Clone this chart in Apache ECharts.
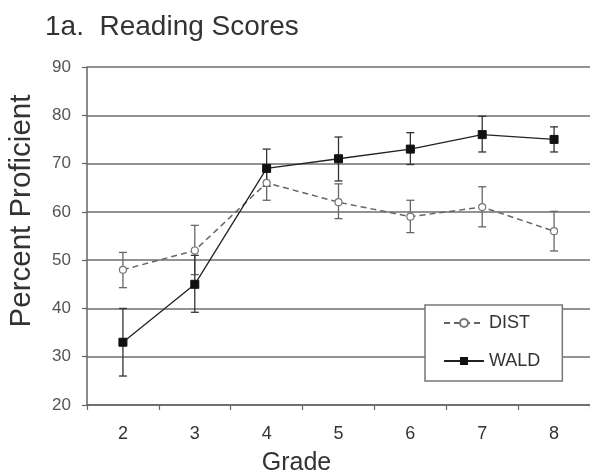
<!DOCTYPE html>
<html><head><meta charset="utf-8">
<script src="https://cdn.jsdelivr.net/npm/echarts@6/dist/echarts.min.js"></script>
<style>html,body{margin:0;padding:0;background:#fff}#c{width:590px;height:471px}</style>
</head><body><div id="c"></div>
<script>
const grades = ['2','3','4','5','6','7','8'];
const distMean = [48, 52, 66, 62, 59, 61, 56];
const distLow  = [44.3, 47, 62.4, 58.6, 55.7, 56.9, 51.9];
const distHigh = [51.6, 57.2, 69.5, 65.8, 62.4, 65.2, 60.1];
const waldMean = [33, 45, 69, 71, 73, 76, 75];
const waldLow  = [26, 39.2, 65.3, 66.4, 69.8, 72.4, 72.4];
const waldHigh = [40, 51, 73, 75.5, 76.4, 79.8, 77.6];
const yTicks = {min: 20, max: 90, step: 10};

const FONT = 'Liberation Sans, Arial, sans-serif';

function errData(lo, hi) { return grades.map((g, i) => [i, lo[i], hi[i]]); }
function errRender(color) {
  return function (params, api) {
    const x = api.value(0);
    const a = api.coord([x, api.value(1)]);
    const b = api.coord([x, api.value(2)]);
    const h = 4;
    const st = {stroke: color, lineWidth: 1.3};
    return {type: 'group', children: [
      {type: 'line', shape: {x1: a[0], y1: a[1], x2: b[0], y2: b[1]}, style: st},
      {type: 'line', shape: {x1: a[0]-h, y1: a[1], x2: a[0]+h, y2: a[1]}, style: st},
      {type: 'line', shape: {x1: b[0]-h, y1: b[1], x2: b[0]+h, y2: b[1]}, style: st}
    ]};
  };
}

const chart = echarts.init(document.getElementById('c'), null, {renderer: 'canvas'});
chart.setOption({
  animation: false,
  backgroundColor: '#fff',
  textStyle: {fontFamily: FONT},
  title: {
    text: '1a.  Reading Scores', left: 40, top: 8,
    textStyle: {fontFamily: FONT, fontSize: 28, fontWeight: 'normal', color: '#333'}
  },
  grid: {left: 87, right: 0, top: 67, bottom: 66, containLabel: false, outerBoundsMode: 'none'},
  legend: {
    data: ['DIST', 'WALD'], orient: 'vertical', left: 425, top: 305,
    backgroundColor: '#fff', borderColor: '#777', borderWidth: 1.5, borderRadius: 0,
    padding: [9, 22, 11, 18], itemGap: 20, itemWidth: 40, itemHeight: 10,
    textStyle: {fontFamily: FONT, fontSize: 18, color: '#333', lineHeight: 18}
  },
  xAxis: {
    type: 'category', data: grades, boundaryGap: true,
    name: 'Grade', nameLocation: 'middle', nameGap: 46,
    nameTextStyle: {fontFamily: FONT, fontSize: 25, color: '#333', padding: [0, 84, 0, 0]},
    axisLine: {lineStyle: {color: '#666', width: 1.5}},
    axisTick: {show: true, length: 5, lineStyle: {color: '#666', width: 1.2}},
    axisLabel: {fontFamily: FONT, fontSize: 18, color: '#333', margin: 20},
    splitLine: {show: false}
  },
  yAxis: {
    type: 'value', min: yTicks.min, max: yTicks.max, interval: yTicks.step,
    name: 'Percent Proficient', nameLocation: 'middle', nameGap: 50,
    nameTextStyle: {fontFamily: FONT, fontSize: 29.5, color: '#333', padding: [0, 0, 0, 50]},
    axisLine: {show: true, lineStyle: {color: '#666', width: 1.5}},
    axisTick: {show: true, length: 5, lineStyle: {color: '#666', width: 1.2}},
    axisLabel: {fontFamily: FONT, fontSize: 17, color: '#555', margin: 16},
    splitLine: {show: true, lineStyle: {color: '#6e6e6e', width: 1.5}}
  },
  series: [
    {
      name: 'DIST err', type: 'custom', data: errData(distLow, distHigh),
      renderItem: errRender('#666'), z: 3, silent: true
    },
    {
      name: 'WALD err', type: 'custom', data: errData(waldLow, waldHigh),
      renderItem: errRender('#333'), z: 3, silent: true
    },
    {
      name: 'DIST', type: 'line', data: distMean, z: 4,
      symbol: 'circle', symbolSize: 7, showAllSymbol: true,
      itemStyle: {color: '#fff', borderColor: '#777', borderWidth: 1.2},
      lineStyle: {color: '#666', width: 1.5, type: [6, 4]}
    },
    {
      name: 'WALD', type: 'line', data: waldMean, z: 5,
      symbol: 'rect', symbolSize: 8, showAllSymbol: true,
      itemStyle: {color: '#111', borderColor: '#111'},
      lineStyle: {color: '#222', width: 1.3}
    }
  ]
});
</script></body></html>
